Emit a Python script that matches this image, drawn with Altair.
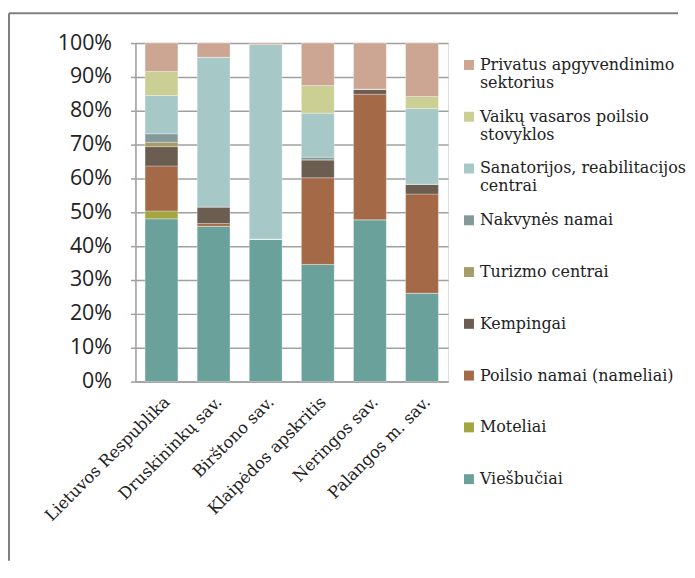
import altair as alt
import pandas as pd

categories = ["Lietuvos Respublika", "Druskininkų sav.", "Birštono sav.",
              "Klaipėdos apskritis", "Neringos sav.", "Palangos m. sav."]

# series listed bottom-to-top of the stack
series_names = ["Viešbučiai", "Moteliai", "Poilsio namai (nameliai)", "Kempingai",
                "Turizmo centrai", "Nakvynės namai",
                "Sanatorijos, reabilitacijos centrai",
                "Vaikų vasaros poilsio stovyklos",
                "Privatus apgyvendinimo sektorius"]

viesbuciai = [48.1, 45.9, 42.1, 34.6, 47.8, 26.1]
moteliai = [2.3, 0, 0, 0, 0, 0]
poilsio_namai = [13.3, 0.8, 0, 25.6, 37.1, 29.3]
kempingai = [5.7, 4.9, 0, 5.3, 1.5, 2.9]
turizmo_centrai = [1.3, 0, 0, 0, 0, 0]
nakvynes_namai = [2.5, 0, 0, 0.8, 0, 0]
sanatorijos = [11.3, 44.2, 57.5, 13.0, 0, 22.4]
vaiku_stovyklos = [7.1, 0, 0, 8.2, 0, 3.5]
privatus = [8.4, 4.2, 0.4, 12.5, 13.6, 15.8]

colors = ["#6aa19a", "#a3a63f", "#a46a47", "#6b5d4f", "#a59c6a",
          "#83999a", "#a6c8c6", "#cbcf94", "#cca593"]

y_ticks = [i / 10 for i in range(11)]

all_values = [viesbuciai, moteliai, poilsio_namai, kempingai, turizmo_centrai,
              nakvynes_namai, sanatorijos, vaiku_stovyklos, privatus]

rows = []
for si, (name, vals) in enumerate(zip(series_names, all_values)):
    for c, v in zip(categories, vals):
        rows.append({"kategorija": c, "tipas": name, "reiksme": v, "eile": si})
df = pd.DataFrame(rows)

legend_order = list(reversed(series_names))
legend_colors = list(reversed(colors))

label_expr = ("datum.label == 'Privatus apgyvendinimo sektorius' ? ['Privatus apgyvendinimo', 'sektorius'] : "
              "datum.label == 'Vaikų vasaros poilsio stovyklos' ? ['Vaikų vasaros poilsio', 'stovyklos'] : "
              "datum.label == 'Sanatorijos, reabilitacijos centrai' ? ['Sanatorijos, reabilitacijos', 'centrai'] : "
              "[datum.label, ' ']")

bars = alt.Chart(df).mark_bar(stroke="white", strokeWidth=0.3).encode(
    x=alt.X("kategorija:N", sort=categories, title=None,
            scale=alt.Scale(paddingInner=0.37, paddingOuter=0.185),
            axis=alt.Axis(labelAngle=-45, labelAlign="right", labelBaseline="top",
                          labelFont="DejaVu Serif", labelFontSize=16.5, labelColor="#222222",
                          ticks=False, domainColor="#a0a0a0", domainWidth=1.5,
                          labelPadding=12, grid=False)),
    y=alt.Y("reiksme:Q", stack="normalize", title=None,
            scale=alt.Scale(domain=[0, 1]),
            axis=alt.Axis(format=".0%", values=y_ticks,
                          labelFont="Open Sans", labelFontSize=21.5, labelColor="#222222",
                          tickColor="#a0a0a0", tickSize=5, tickWidth=1.5,
                          domainColor="#a0a0a0", domainWidth=1.5,
                          gridColor="#a0a0a0", gridWidth=1.5, labelPadding=19)),
    color=alt.Color("tipas:N", sort=legend_order,
                    scale=alt.Scale(domain=legend_order, range=legend_colors),
                    legend=alt.Legend(title=None, labelExpr=label_expr,
                                      labelFont="DejaVu Serif", labelFontSize=16,
                                      labelColor="#222222", symbolType="square",
                                      symbolSize=100, symbolStrokeWidth=0,
                                      rowPadding=18, labelLimit=300, labelOffset=3,
                                      orient="none", legendX=327, legendY=14)),
    order=alt.Order("eile:Q", sort="ascending"),
)

frame_src = pd.DataFrame({"k": [0]})
top_line = alt.Chart(frame_src).mark_rule(color="#808080", strokeWidth=2).encode(
    x=alt.value(-127), x2=alt.value(545), y=alt.value(-30))
left_line = alt.Chart(frame_src).mark_rule(color="#808080", strokeWidth=2).encode(
    x=alt.value(-127), y=alt.value(-30), y2=alt.value(520))

chart = alt.layer(bars, top_line, left_line).properties(
    width=314, height=340
).configure_view(stroke=None).configure(
    padding={"left": 0, "top": 3, "right": 0, "bottom": 0}
)

chart.save("out.html", embed_options={"renderer": "svg", "actions": False})
